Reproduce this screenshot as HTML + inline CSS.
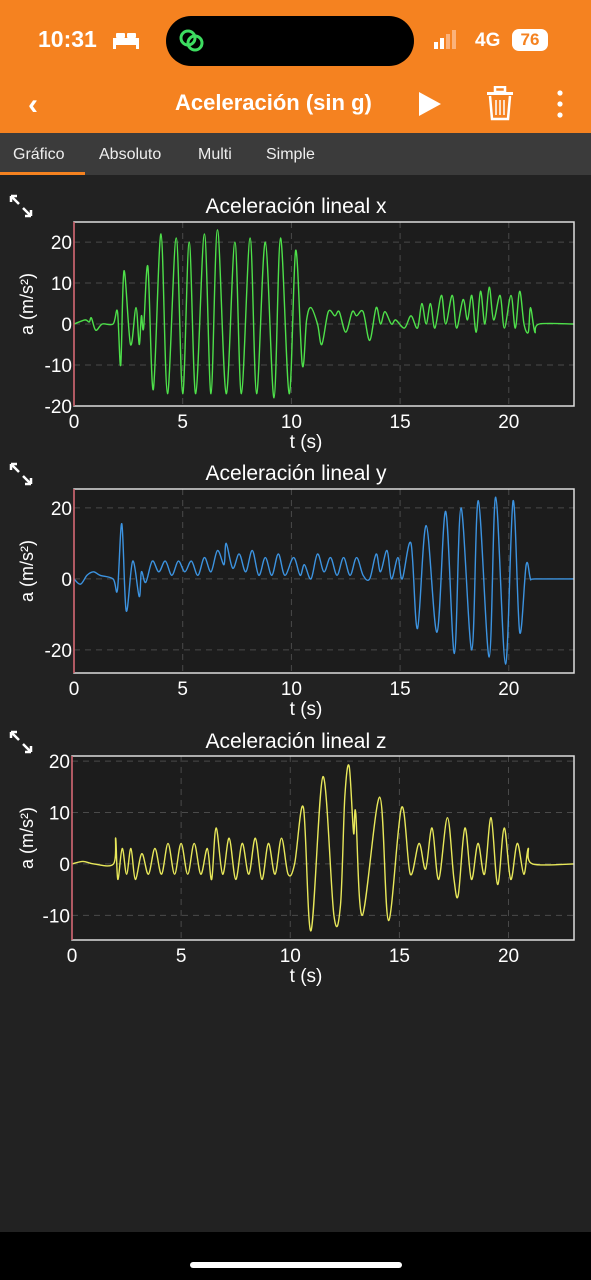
<!DOCTYPE html>
<html><head><meta charset="utf-8">
<style>
*{margin:0;padding:0;box-sizing:border-box}
body{width:591px;height:1280px;background:#222;font-family:"Liberation Sans",sans-serif;position:relative;overflow:hidden;color:#fff}
.abs{position:absolute}
</style></head><body>
<div class="abs" style="left:0;top:0;width:591px;height:133px;background:#F58220"></div>
<div class="abs" style="left:38px;top:26px;font-size:23px;font-weight:bold">10:31</div>
<svg class="abs" style="left:112px;top:30px" width="28" height="20"><rect x="1" y="8" width="26" height="7" fill="#fff"/><rect x="4" y="3" width="9" height="5" rx="1" fill="#fff"/><rect x="15" y="3" width="9" height="5" rx="1" fill="#fff"/><rect x="1" y="14" width="3" height="5" fill="#fff"/><rect x="24" y="14" width="3" height="5" fill="#fff"/></svg>
<div class="abs" style="left:166px;top:16px;width:248px;height:50px;background:#000;border-radius:25px"></div>
<svg class="abs" style="left:176px;top:26px" width="32" height="28"><circle cx="12" cy="12" r="7" fill="none" stroke="#3ddc60" stroke-width="3"/><circle cx="19" cy="17" r="7" fill="none" stroke="#3ddc60" stroke-width="3"/></svg>
<svg class="abs" style="left:434px;top:30px" width="36" height="20"><rect x="0" y="12" width="4" height="7" fill="#fff"/><rect x="6" y="8" width="4" height="11" fill="#fff"/><rect x="12" y="4" width="4" height="15" fill="#fbb27a"/><rect x="18" y="0" width="4" height="19" fill="#fbb27a"/></svg>
<div class="abs" style="left:475px;top:30px;font-size:19px;font-weight:bold">4G</div>
<div class="abs" style="left:512px;top:29px;width:36px;height:22px;background:#fff;border-radius:7px;color:#F58220;font-weight:bold;font-size:17px;text-align:center;line-height:22px">76</div>
<div class="abs" style="left:28px;top:88px;font-size:30px;font-weight:bold">&#8249;</div>
<div class="abs" style="left:175px;top:90px;font-size:22px;font-weight:bold">Aceleración (sin g)</div>
<svg class="abs" style="left:417px;top:90px" width="26" height="28"><polygon points="2,2 24,14 2,26" fill="#fff"/></svg>
<svg class="abs" style="left:485px;top:86px" width="30" height="36"><rect x="2" y="6" width="26" height="3" fill="#fff"/><rect x="10" y="1" width="10" height="5" fill="none" stroke="#fff" stroke-width="2.5"/><path d="M5 10 L7 33 L23 33 L25 10" fill="none" stroke="#fff" stroke-width="2.5"/><path d="M11 14V29M15 14V29M19 14V29" stroke="#fff" stroke-width="1.5"/></svg>
<svg class="abs" style="left:555px;top:90px" width="10" height="28"><circle cx="5" cy="3" r="2.6" fill="#fff"/><circle cx="5" cy="14" r="2.6" fill="#fff"/><circle cx="5" cy="25" r="2.6" fill="#fff"/></svg>
<div class="abs" style="left:0;top:133px;width:591px;height:42px;background:#3b3b3b"></div>
<div class="abs" style="left:13px;top:146px;font-size:16px;color:#eee">Gráfico</div>
<div class="abs" style="left:99px;top:146px;font-size:16px;color:#eee">Absoluto</div>
<div class="abs" style="left:198px;top:146px;font-size:16px;color:#eee">Multi</div>
<div class="abs" style="left:266px;top:146px;font-size:16px;color:#eee">Simple</div>
<div class="abs" style="left:0;top:172px;width:85px;height:3px;background:#F58220"></div>
<div class="abs" style="left:0;top:1232px;width:591px;height:48px;background:#000"></div>
<div class="abs" style="left:190px;top:1262px;width:212px;height:6px;background:#fff;border-radius:3px"></div>
<svg id="charts" class="abs" style="left:0;top:0" width="591" height="1232"></svg>
<script>
const xTicks=[0,5,10,15,20];
const xTickLabels=["0","5","10","15","20"];
const xT=[0,0.5,0.7,0.8,1.0,1.3,1.8,2.0,2.15,2.3,2.6,2.85,3.0,3.1,3.2,3.4,3.65,4.0,4.3,4.7,5.0,5.3,5.6,6.0,6.3,6.6,7.0,7.4,7.7,8.1,8.4,8.8,9.2,9.5,9.9,10.2,10.5,10.7,10.9,11.2,11.4,11.7,12.0,12.2,12.5,12.8,13.0,13.3,13.6,13.9,14.1,14.3,14.6,14.8,15.2,15.5,15.8,16.0,16.2,16.4,16.6,16.9,17.1,17.4,17.6,17.9,18.1,18.3,18.5,18.7,18.9,19.1,19.3,19.6,19.8,20.1,20.3,20.5,20.7,20.9,21.0,21.2,21.4,23];
const xV=[0,1,0.5,1.5,-1.5,0,0,3,-10,13,-5,4,-5,2,-1,14,-16,22,-17,21,-17,20,-17,22,-17,23,-17,20,-17,21,-17,20,-18,21,-17,18,-10,1,4,0,-5,3,2,3,-2,3,2,3,-4,4,0,3,0,1,-1,2,-1,5,0,5,-1,7,0,7,-1,6,1,7,-2,8,0,9,1,7,-1,7,-1,8,0,-2,4,-2,0,0];
const yT=[0,0.3,0.6,0.9,1.2,1.8,2.0,2.2,2.4,2.7,3.0,3.1,3.3,3.6,3.9,4.2,4.5,4.8,5.1,5.4,5.7,6.0,6.3,6.6,6.9,7.0,7.3,7.6,7.9,8.2,8.5,8.8,9.1,9.4,9.7,10.1,10.4,10.6,10.9,11.2,11.5,11.8,12.1,12.4,12.7,13.0,13.3,13.6,13.9,14.1,14.4,14.6,14.9,15.1,15.5,15.8,16.2,16.7,17.1,17.5,17.8,18.3,18.6,19.1,19.4,19.85,20.2,20.5,20.8,21.0,21.2,23];
const yV=[0,-1.5,1,2,1,0,-3,15.5,-9,5,-5,2,-1,5,2,5,1,5,2,5,1,6,2,8,4,10,3,7,2,8,1,6,1,7,1,6,1,4,0,7,2,6,1,6,1,6,1,0,7,2,8,0,6,0,10,-14,15,-15,19,-21,20,-20,22,-22,23,-24,22,-15,4,0,0,0];
const zT=[0,0.5,1,1.9,2.0,2.1,2.3,2.5,2.7,2.9,3.2,3.5,3.8,4.1,4.4,4.7,5.0,5.3,5.6,5.9,6.2,6.4,6.6,6.9,7.2,7.5,7.8,8.1,8.4,8.7,9.0,9.3,9.6,9.9,10.2,10.6,10.95,11.5,12.0,12.3,12.5,12.7,12.9,13.0,13.3,14.1,14.5,15.1,15.5,15.9,16.2,16.5,16.8,17.2,17.5,17.7,18.0,18.3,18.6,18.9,19.2,19.5,19.8,20.1,20.4,20.7,20.9,21.1,23];
const zV=[0,0.5,0,0,5,-3,3,-2,3,-3,2,-2,3,-2,4,-2,4,-2,4,-2,3,-3,7,-2,5,-3,4,-2,5,-3,4,-2,5,-2,0,11,-13,17,-10,-8,13,19,6,10,-10,13,-11,11,-2,4,-1,7,-3,9,-3,-6,7,-3,4,-2,9,-4,7,-3,4,-2,3,0,0];
const charts=[
 {name:"x",title:"Aceleración lineal x",T:xT,V:xV,color:"#4ee04a",left:74,right:574,top:222,bottom:406,ymin:-20,ymax:24.9,yticks:[20,10,0,-10,-20],titleY:213,expY:196},
 {name:"y",title:"Aceleración lineal y",T:yT,V:yV,color:"#3c93e0",left:74,right:574,top:489,bottom:673,ymin:-26.5,ymax:25.3,yticks:[20,0,-20],titleY:480,expY:464},
 {name:"z",title:"Aceleración lineal z",T:zT,V:zV,color:"#e8e85a",left:72,right:574,top:756,bottom:940,ymin:-14.8,ymax:21,yticks:[20,10,0,-10],titleY:748,expY:732}
];
const NS="http://www.w3.org/2000/svg";
const svg=document.getElementById('charts');
function mk(tag,attrs,parent){const e=document.createElementNS(NS,tag);for(const k in attrs)e.setAttribute(k,attrs[k]);(parent||svg).appendChild(e);return e;}
charts.forEach(c=>{
 const g=mk('g',{});
 
 
 const sx=t=>c.left+(t/23)*(c.right-c.left);
 const sy=v=>c.bottom-(v-c.ymin)/(c.ymax-c.ymin)*(c.bottom-c.top);
 mk('rect',{x:c.left,y:c.top,width:c.right-c.left,height:c.bottom-c.top,fill:'#1c1c1c'},g);
 xTicks.forEach((t,i)=>{
  if(t>0){const l=mk('line',{x1:sx(t),x2:sx(t),y1:c.top,y2:c.bottom,stroke:'#4a4a4a','stroke-dasharray':'6,5'},g);}
  const tx=mk('text',{x:sx(t),y:c.bottom+22,'font-size':19,fill:'#fff','text-anchor':'middle'},g);tx.textContent=xTickLabels[i];
  
  
 });
 c.yticks.forEach(v=>{
  const l=mk('line',{x1:c.left,x2:c.right,y1:sy(v),y2:sy(v),stroke:'#4a4a4a','stroke-dasharray':'6,5'},g);
  
  
  const tx=mk('text',{x:c.left-2,y:sy(v)+7,'font-size':19,fill:'#fff','text-anchor':'end'},g);tx.textContent=String(v);
  
  
 });
 const P=c.T.map((t,i)=>[sx(t),sy(c.V[i])]);
 let d='M'+P[0][0].toFixed(1)+','+P[0][1].toFixed(1);
 for(let i=0;i<P.length-1;i++){
  const p0=P[Math.max(0,i-1)],p1=P[i],p2=P[i+1],p3=P[Math.min(P.length-1,i+2)];
  const c1=[p1[0]+(p2[0]-p0[0])/6,p1[1]+(p2[1]-p0[1])/6],c2=[p2[0]-(p3[0]-p1[0])/6,p2[1]-(p3[1]-p1[1])/6];
  d+='C'+c1.map(n=>n.toFixed(1)).join(',')+' '+c2.map(n=>n.toFixed(1)).join(',')+' '+p2.map(n=>n.toFixed(1)).join(',');
 }
 const path=mk('path',{d:d,fill:'none',stroke:c.color,'stroke-width':1.4},g);
 
 
 const fr=mk('rect',{x:c.left,y:c.top,width:c.right-c.left,height:c.bottom-c.top,fill:'none',stroke:'#ddd','stroke-width':1.5},g);
 
 
 mk('line',{x1:c.left,x2:c.left,y1:c.top,y2:c.bottom,stroke:'#d04050','stroke-width':1.2},g);
 const ti=mk('text',{x:296,y:c.titleY,'font-size':21,fill:'#fff','text-anchor':'middle'},g);ti.textContent=c.title;
 
 
 const yl=mk('text',{x:0,y:0,'font-size':18,fill:'#fff','text-anchor':'middle',transform:'translate(33,'+((c.top+c.bottom)/2-10)+') rotate(-90)'},g);yl.textContent='a (m/s²)';
 
 
 const xl=mk('text',{x:306,y:c.bottom+42,'font-size':19,fill:'#fff','text-anchor':'middle'},g);xl.textContent='t (s)';
 
 
 const ex=mk('path',{d:`M11 ${c.expY}l8 8M11 ${c.expY}h6M11 ${c.expY}v6M31 ${c.expY+20}l-8 -8M31 ${c.expY+20}h-6M31 ${c.expY+20}v-6`,stroke:'#fff','stroke-width':2.5,fill:'none'},g);
 
 
});
</script>
</body></html>
